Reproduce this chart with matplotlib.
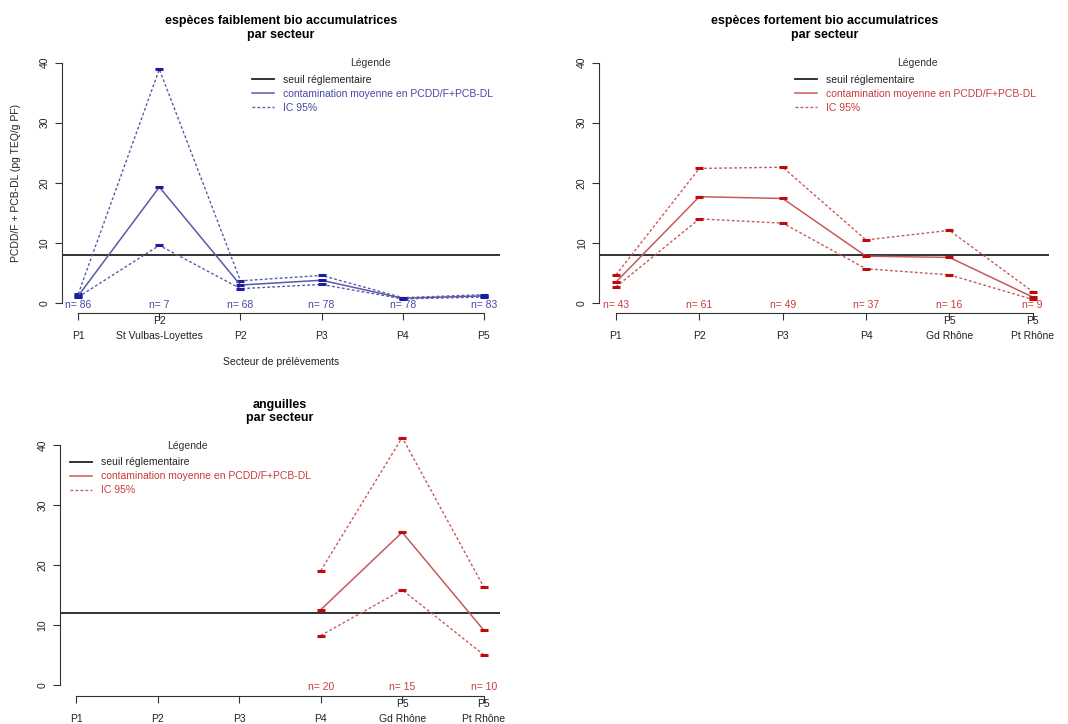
import matplotlib
matplotlib.use("Agg")
import matplotlib.pyplot as plt
from matplotlib.lines import Line2D
from matplotlib.transforms import blended_transform_factory

plt.rcParams['font.family'] = ['Liberation Sans', 'DejaVu Sans']

# --- data ---
# panel 1 : especes faiblement bio accumulatrices
x1_labels = ["P1", "St Vulbas-Loyettes", "P2", "P3", "P4", "P5"]
x1_upper = ["", "P2", "", "", "", ""]
mean1 = [1.2, 19.3, 3.0, 3.8, 0.8, 1.2]
hi1 = [1.5, 38.9, 3.7, 4.6, 0.9, 1.4]
lo1 = [1.0, 9.6, 2.4, 3.1, 0.7, 1.0]
n1 = [86, 7, 68, 78, 78, 83]
seuil1 = 8

# panel 2 : especes fortement bio accumulatrices
x2_labels = ["P1", "P2", "P3", "P4", "Gd Rhône", "Pt Rhône"]
x2_upper = ["", "", "", "", "P5", "P5"]
mean2 = [3.5, 17.7, 17.4, 7.8, 7.6, 1.0]
hi2 = [4.7, 22.4, 22.6, 10.5, 12.1, 1.9]
lo2 = [2.7, 14.0, 13.3, 5.7, 4.7, 0.6]
n2 = [43, 61, 49, 37, 16, 9]
seuil2 = 8

# panel 3 : anguilles (only P4, Gd Rhone, Pt Rhone)
x3_labels = ["P1", "P2", "P3", "P4", "Gd Rhône", "Pt Rhône"]
x3_upper = ["", "", "", "", "P5", "P5"]
x3_pos = [4, 5, 6]
mean3 = [12.6, 25.5, 9.2]
hi3 = [19.1, 41.3, 16.4]
lo3 = [8.3, 15.9, 5.1]
n3 = [20, 15, 10]
seuil3 = 12

legend_title = "Légende"
legend_labels = ["seuil réglementaire", "contamination moyenne en PCDD/F+PCB-DL", "IC 95%"]

BLUE_LINE, BLUE_MK, BLUE_TXT = "#5a5aa8", "#1c1ca0", "#4646a6"
RED_LINE, RED_MK, RED_TXT = "#c85a5a", "#c00a0a", "#c83c3c"
W, H = 1068, 724

fig = plt.figure(figsize=(W / 100, H / 100), dpi=100)


def box(l, t, r, b):
    return [l / W, 1 - b / H, (r - l) / W, (b - t) / H]


def panel(rect, xpos, mean, hi, lo, n, seuil, labels, upper, title, tpad,
          cline, cmk, ctxt, ylim, leg_xy, leg_title_xy):
    ax = fig.add_axes(rect)
    ax.axhline(seuil, color="#222222", lw=1.3)
    dots = (0, (2, 1.6))
    ax.plot(xpos, hi, color=cline, lw=1, ls=dots, marker="_", ms=6, mew=2.2, mec=cmk)
    ax.plot(xpos, lo, color=cline, lw=1, ls=dots, marker="_", ms=6, mew=2.2, mec=cmk)
    ax.plot(xpos, mean, color=cline, lw=1.1, marker="_", ms=6, mew=2.2, mec=cmk)
    for xp, nn in zip(xpos, n):
        ax.text(xp, -0.25, "n= %d" % nn, color=ctxt, fontsize=7.5, ha="center", va="center")
    ax.set_xlim(0.8, 6.2)
    ax.set_ylim(*ylim)
    for s in ["top", "right"]:
        ax.spines[s].set_visible(False)
    ax.spines["left"].set_bounds(0, 40)
    ax.spines["bottom"].set_bounds(1, 6)
    for s in ["left", "bottom"]:
        ax.spines[s].set_color("#333333")
    ax.set_yticks([0, 10, 20, 30, 40])
    ax.set_yticklabels(["0", "10", "20", "30", "40"], rotation=90, va="center")
    ax.set_xticks(range(1, 7))
    ax.set_xticklabels(labels)
    ax.tick_params(axis="both", length=5, color="#333333", labelsize=7.5, labelcolor="#222222")
    ax.tick_params(axis="x", pad=8)
    ax.tick_params(axis="y", pad=4)
    tr = blended_transform_factory(ax.transData, ax.transAxes)
    for i, u in enumerate(upper):
        if u:
            ax.annotate(u, xy=(i + 1, 0), xycoords=tr, xytext=(0, -6), textcoords="offset points",
                        ha="center", va="center", fontsize=7.5, color="#222222")
    ax.set_title(title, fontsize=9, fontweight="bold", pad=tpad, linespacing=1.15)
    handles = [Line2D([], [], color="#222222", lw=1.3),
               Line2D([], [], color=cline, lw=1.1),
               Line2D([], [], color=cline, lw=1, ls=dots)]
    ax.legend(handles, legend_labels, frameon=False,
              loc="upper left", bbox_to_anchor=(leg_xy[0] / W, 1 - leg_xy[1] / H),
              bbox_transform=fig.transFigure, fontsize=7.5,
              handlelength=2.1, handletextpad=0.9, labelspacing=0.37,
              borderpad=0, borderaxespad=0,
              labelcolor=["#222222", ctxt, ctxt])
    fig.text(leg_title_xy[0] / W, 1 - leg_title_xy[1] / H, legend_title, fontsize=7.5,
             color="#333333", ha="center", va="center")
    return ax


ax1 = panel(box(62, 53, 500, 312.7), range(1, 7), mean1, hi1, lo1, n1, seuil1,
            x1_labels, x1_upper, "espèces faiblement bio accumulatrices\npar secteur", 11,
            BLUE_LINE, BLUE_MK, BLUE_TXT, (-1.6, 41.6), (252, 75), (370, 63))
ax1.set_ylabel("PCDD/F + PCB-DL (pg TEQ/g PF)", fontsize=7.5, color="#222222", labelpad=13)
ax1.set_xlabel("Secteur de prélèvements", fontsize=7.5, color="#222222", labelpad=12)

ax2 = panel(box(599.3, 53, 1049.4, 312.7), range(1, 7), mean2, hi2, lo2, n2, seuil2,
            x2_labels, x2_upper, "espèces fortement bio accumulatrices\npar secteur", 11,
            RED_LINE, RED_MK, RED_TXT, (-1.6, 41.6), (795, 75), (917, 63))

ax3 = panel(box(60, 427.6, 500, 696), x3_pos, mean3, hi3, lo3, n3, seuil3,
            x3_labels, x3_upper, "anguilles\npar secteur", 4.5,
            RED_LINE, RED_MK, RED_TXT, (-1.78, 42.95), (70, 457.5), (187, 445.7))

fig.savefig("out.png", dpi=100)
